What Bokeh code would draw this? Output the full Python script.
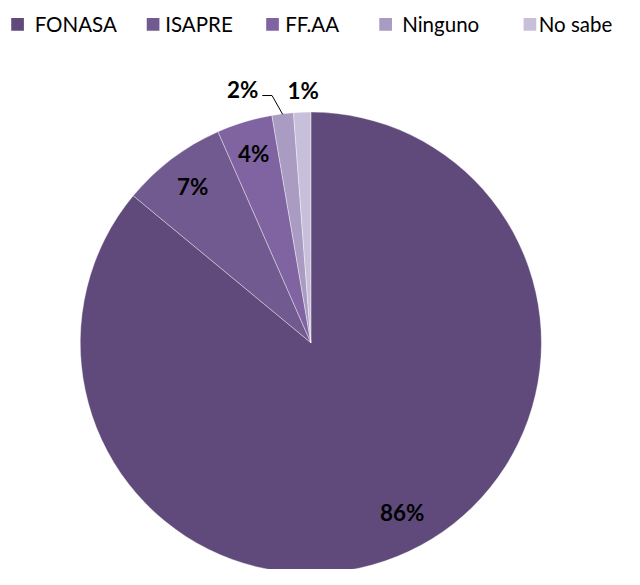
import math
from bokeh.plotting import figure
from bokeh.models import Range1d, ColumnDataSource
from bokeh.core.properties import value
from bokeh.embed import file_html
from bokeh.resources import INLINE

# ---- data ----
categories = ["FONASA", "ISAPRE", "FF.AA", "Ninguno", "No sabe"]
values = [86.0, 7.4, 3.9, 1.5, 1.2]
colors = ["#5F4A7B", "#715A90", "#8064A2", "#A99BC1", "#C8C0DA"]

# ---- layout: reference is 640x585; figure fits window with 8px margin ----
REF_W, REF_H = 640, 585
W, H = 624, 569
S = W / REF_W  # pixel scale for fonts
CX, CY, R = 318.3, 351.8, 236.5

p = figure(width=W, height=H, output_backend="svg", toolbar_location=None,
           x_range=Range1d(0, REF_W), y_range=Range1d(-REF_H, 0),
           min_border=0, outline_line_color=None)
p.axis.visible = False
p.grid.visible = False
p.background_fill_color = "white"
p.border_fill_color = "white"

total = sum(values)
starts, ends, mids = [], [], []
cum = 0.0
for v in values:
    a0 = math.pi / 2 - 2 * math.pi * cum / total
    cum += v
    a1 = math.pi / 2 - 2 * math.pi * cum / total
    starts.append(a0)
    ends.append(a1)
    mids.append((a0 + a1) / 2)

src = ColumnDataSource(dict(start=starts, end=ends, color=colors, cat=categories))
p.wedge(x=CX, y=-CY, radius=R, start_angle="start", end_angle="end",
        direction="clock", fill_color="color", line_color="white",
        line_width=0.7, line_alpha=0.55, source=src)

labels = [f"{int(v + 0.5)}%" for v in values]

# inside labels
inside_r = [0.84, 0.85, 0.86]
nudge = [(9, -5), (0, 0), (0, 0)]
lx, ly, lt = [], [], []
for i in range(3):
    x = CX + inside_r[i] * R * math.cos(mids[i]) + nudge[i][0]
    y = -CY + inside_r[i] * R * math.sin(mids[i]) - nudge[i][1]
    lx.append(x); ly.append(y); lt.append(labels[i])

# outside labels
ex3 = CX + R * math.cos(mids[3]); ey3 = -CY + R * math.sin(mids[3])
lbl3 = (248.3, -91.0)
p.line(x=[268.5, 278.5, ex3], y=[-97.7, -97.7, ey3], line_color="black", line_width=1)
lx.append(lbl3[0]); ly.append(lbl3[1]); lt.append(labels[3])
ex4 = CX + R * math.cos(mids[4]); ey4 = -CY + R * math.sin(mids[4])
lx.append(ex4 + 1); ly.append(ey4 + 23); lt.append(labels[4])

p.text(x=lx, y=ly, text=lt, text_font=value("Lato"), text_font_style="bold",
       text_font_size=f"{23 * S:.1f}px", text_color="black", text_align="center",
       text_baseline="middle")

# legend
sq_x = [17.5, 156.5, 279.0, 395.0, 543.0]
tx_x = [35.0, 169.0, 292.0, 412.0, 552.0]
leg_y = -24.5
p.rect(x=sq_x, y=[leg_y] * 5, width=13, height=13, fill_color=colors, line_color=None)
p.text(x=tx_x, y=[leg_y] * 5, text=categories, text_font=value("Lato"),
       text_font_size=f"{21 * S:.1f}px", text_color="black", text_align="left",
       text_baseline="middle")

open("out.html", "w").write(file_html(p, INLINE))
